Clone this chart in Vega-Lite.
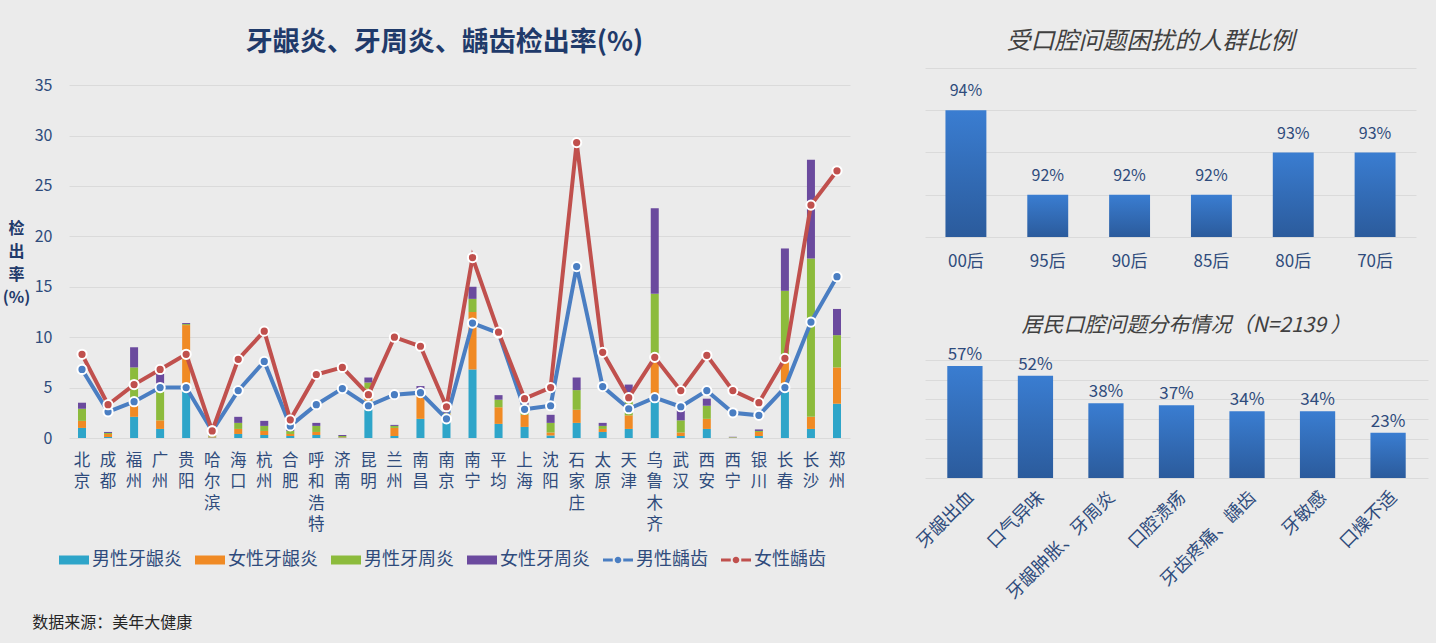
{
  "$schema": "https://vega.github.io/schema/vega-lite/v6.json",
  "background": "#ebebeb",
  "padding": {"left": 2, "top": 29, "right": 8, "bottom": 16},
  "config": {
    "font": "Noto Sans CJK SC",
    "view": {"stroke": null},
    "axis": {"domain": false, "ticks": false, "gridColor": "#d9d9d9", "labelColor": "#2f4b7c", "labelFont": "Noto Sans CJK SC"}
  },
  "title": {"text": "数据来源：美年大健康", "orient": "bottom", "anchor": "start", "fontSize": 16, "fontWeight": "normal", "color": "#262626", "offset": 12, "dx": 30},
  "resolve": {"scale": {"color": "independent"}},
  "spacing": 63,
  "hconcat": [
    {
      "width": 781,
      "height": 370,
      "title": {"text": "牙龈炎、牙周炎、龋齿检出率(%)", "fontSize": 27, "fontWeight": "bold", "color": "#1f3a6a", "anchor": "middle", "dx": -15, "offset": 11},
      "data": {"values": [
        {"city": "北京", "男性牙龈炎": 1.0, "女性牙龈炎": 0.7, "男性牙周炎": 1.2, "女性牙周炎": 0.6, "男性龋齿": 6.8, "女性龋齿": 8.3},
        {"city": "成都", "男性牙龈炎": 0.1, "女性牙龈炎": 0.3, "男性牙周炎": 0.1, "女性牙周炎": 0.1, "男性龋齿": 2.6, "女性龋齿": 3.3},
        {"city": "福州", "男性牙龈炎": 2.1, "女性牙龈炎": 1.8, "男性牙周炎": 3.1, "女性牙周炎": 2.0, "男性龋齿": 3.6, "女性龋齿": 5.3},
        {"city": "广州", "男性牙龈炎": 0.9, "女性牙龈炎": 0.85, "男性牙周炎": 3.6, "女性牙周炎": 1.0, "男性龋齿": 5.0, "女性龋齿": 6.8},
        {"city": "贵阳", "男性牙龈炎": 5.3, "女性牙龈炎": 5.9, "男性牙周炎": 0.1, "女性牙周炎": 0.1, "男性龋齿": 5.0, "女性龋齿": 8.3},
        {"city": "哈尔滨", "男性牙龈炎": 0.05, "女性牙龈炎": 0.1, "男性牙周炎": 0.1, "女性牙周炎": 0.05, "男性龋齿": 0.7, "女性龋齿": 0.7},
        {"city": "海口", "男性牙龈炎": 0.4, "女性牙龈炎": 0.5, "男性牙周炎": 0.6, "女性牙周炎": 0.6, "男性龋齿": 4.7, "女性龋齿": 7.8},
        {"city": "杭州", "男性牙龈炎": 0.3, "女性牙龈炎": 0.4, "男性牙周炎": 0.5, "女性牙周炎": 0.5, "男性龋齿": 7.6, "女性龋齿": 10.6},
        {"city": "合肥", "男性牙龈炎": 0.2, "女性牙龈炎": 0.2, "男性牙周炎": 0.3, "女性牙周炎": 0.2, "男性龋齿": 1.2, "女性龋齿": 1.8},
        {"city": "呼和浩特", "男性牙龈炎": 0.3, "女性牙龈炎": 0.3, "男性牙周炎": 0.6, "女性牙周炎": 0.3, "男性龋齿": 3.3, "女性龋齿": 6.3},
        {"city": "济南", "男性牙龈炎": 0.05, "女性牙龈炎": 0.05, "男性牙周炎": 0.1, "女性牙周炎": 0.1, "男性龋齿": 4.9, "女性龋齿": 7.0},
        {"city": "昆明", "男性牙龈炎": 3.7, "女性牙龈炎": 1.2, "男性牙周炎": 0.6, "女性牙周炎": 0.5, "男性龋齿": 3.2, "女性龋齿": 4.3},
        {"city": "兰州", "男性牙龈炎": 0.2, "女性牙龈炎": 0.8, "男性牙周炎": 0.2, "女性牙周炎": 0.1, "男性龋齿": 4.3, "女性龋齿": 10.0},
        {"city": "南昌", "男性牙龈炎": 1.9, "女性牙龈炎": 2.3, "男性牙周炎": 0.6, "女性牙周炎": 0.35, "男性龋齿": 4.5, "女性龋齿": 9.1},
        {"city": "南京", "男性牙龈炎": 2.3, "女性牙龈炎": 0.1, "男性牙周炎": 0.1, "女性牙周炎": 0.1, "男性龋齿": 1.9, "女性龋齿": 3.1},
        {"city": "南宁", "男性牙龈炎": 6.8, "女性牙龈炎": 5.7, "男性牙周炎": 1.3, "女性牙周炎": 1.2, "男性龋齿": 11.4, "女性龋齿": 17.9},
        {"city": "平均", "男性牙龈炎": 1.4, "女性牙龈炎": 1.65, "男性牙周炎": 0.75, "女性牙周炎": 0.45, "男性龋齿": 10.4, "女性龋齿": 10.5},
        {"city": "上海", "男性牙龈炎": 1.1, "女性牙龈炎": 1.2, "男性牙周炎": 1.0, "女性牙周炎": 0.6, "男性龋齿": 2.85, "女性龋齿": 3.9},
        {"city": "沈阳", "男性牙龈炎": 0.25, "女性牙龈炎": 0.3, "男性牙周炎": 0.95, "女性牙周炎": 0.8, "男性龋齿": 3.2, "女性龋齿": 5.0},
        {"city": "石家庄", "男性牙龈炎": 1.5, "女性牙龈炎": 1.3, "男性牙周炎": 1.95, "女性牙周炎": 1.25, "男性龋齿": 17.0, "女性龋齿": 29.3},
        {"city": "太原", "男性牙龈炎": 0.6, "女性牙龈炎": 0.3, "男性牙周炎": 0.3, "女性牙周炎": 0.3, "男性龋齿": 5.1, "女性龋齿": 8.5},
        {"city": "天津", "男性牙龈炎": 0.9, "女性牙龈炎": 1.35, "男性牙周炎": 2.3, "女性牙周炎": 0.75, "男性龋齿": 2.9, "女性龋齿": 4.0},
        {"city": "乌鲁木齐", "男性牙龈炎": 4.1, "女性牙龈炎": 3.8, "男性牙周炎": 6.4, "女性牙周炎": 8.5, "男性龋齿": 4.0, "女性龋齿": 8.0},
        {"city": "武汉", "男性牙龈炎": 0.2, "女性牙龈炎": 0.35, "男性牙周炎": 1.2, "女性牙周炎": 1.25, "男性龋齿": 3.1, "女性龋齿": 4.7},
        {"city": "西安", "男性牙龈炎": 0.9, "女性牙龈炎": 1.0, "男性牙周炎": 1.3, "女性牙周炎": 0.7, "男性龋齿": 4.7, "女性龋齿": 8.2},
        {"city": "西宁", "男性牙龈炎": 0.03, "女性牙龈炎": 0.03, "男性牙周炎": 0.03, "女性牙周炎": 0.03, "男性龋齿": 2.5, "女性龋齿": 4.7},
        {"city": "银川", "男性牙龈炎": 0.2, "女性牙龈炎": 0.4, "男性牙周炎": 0.1, "女性牙周炎": 0.15, "男性龋齿": 2.25, "女性龋齿": 3.5},
        {"city": "长春", "男性牙龈炎": 4.6, "女性牙龈炎": 3.4, "男性牙周炎": 6.6, "女性牙周炎": 4.2, "男性龋齿": 5.0, "女性龋齿": 7.9},
        {"city": "长沙", "男性牙龈炎": 0.9, "女性牙龈炎": 1.2, "男性牙周炎": 15.7, "女性牙周炎": 9.8, "男性龋齿": 11.5, "女性龋齿": 23.1},
        {"city": "郑州", "男性牙龈炎": 3.4, "女性牙龈炎": 3.6, "男性牙周炎": 3.2, "女性牙周炎": 2.6, "男性龋齿": 16.0, "女性龋齿": 26.5}
      ]},
      "encoding": {
        "x": {"field": "city", "type": "nominal", "sort": null, "scale": {"paddingInner": 0, "paddingOuter": 0},
          "axis": {"title": null, "labelAngle": 0, "labelExpr": "split(datum.label, '')", "labelFontSize": 16.5, "labelLineHeight": 21.5, "labelBaseline": "top", "labelPadding": 14, "labelOverlap": false, "grid": false, "labelColor": "#2f4b7c"}},
        "color": {"field": "series", "type": "nominal",
          "scale": {"domain": ["男性牙龈炎", "女性牙龈炎", "男性牙周炎", "女性牙周炎", "男性龋齿", "女性龋齿"], "range": ["#2ea5c9", "#f08a24", "#8cbb3c", "#6b4a9e", "#4a7ec2", "#c0504d"]},
          "legend": {"orient": "none", "legendX": -10, "legendY": 477, "direction": "horizontal", "title": null, "labelFontSize": 18, "labelColor": "#2f4b7c", "symbolSize": 900, "symbolType": "M-1,-0.3H1V0.3H-1Z", "labelOffset": 3, "columnPadding": 13, "labelLimit": 200,
            "encode": {"symbols": {"update": {
              "shape": {"signal": "indexof(datum.value,'龋齿')>=0 ? 'M-1,-0.1H-0.35V0.1H-1Z M0.35,-0.1H1V0.1H0.35Z M0.22,0A0.22,0.22 0 1,1 -0.22,0A0.22,0.22 0 1,1 0.22,0Z' : 'M-1,-0.3H1V0.3H-1Z'"},
              "fill": {"signal": "datum.value=='男性牙龈炎' ? '#2ea5c9' : datum.value=='女性牙龈炎' ? '#f08a24' : datum.value=='男性牙周炎' ? '#8cbb3c' : datum.value=='女性牙周炎' ? '#6b4a9e' : datum.value=='男性龋齿' ? '#4a7ec2' : '#c0504d'"},
              "opacity": {"value": 1},
              "strokeWidth": {"value": 0}
            }}}}
        }
      },
      "layer": [
        {
          "transform": [
            {"fold": ["男性牙龈炎", "女性牙龈炎", "男性牙周炎", "女性牙周炎"], "as": ["series", "value"]},
            {"calculate": "indexof(['男性牙龈炎', '女性牙龈炎', '男性牙周炎', '女性牙周炎'], datum.series)", "as": "ord"}
          ],
          "mark": {"type": "bar", "size": 8},
          "encoding": {
            "y": {"field": "value", "type": "quantitative", "stack": "zero", "scale": {"domain": [0, 36.7], "nice": false},
              "axis": {"title": ["检", "出", "率", "(%)"], "titleAngle": 0, "titleX": -53, "titleY": 152, "titleAlign": "center", "titleBaseline": "top", "titleFontSize": 16, "titleFontWeight": "bold", "titleColor": "#1f3a6a", "titleLineHeight": 23, "labelFontSize": 16, "labelPadding": 17, "values": [0, 5, 10, 15, 20, 25, 30, 35], "grid": true, "gridColor": "#dadada", "labelColor": "#2f4b7c"}},
            "order": {"field": "ord", "type": "quantitative"}
          }
        },
        {
          "transform": [{"fold": ["男性龋齿", "女性龋齿"], "as": ["series", "value"]}],
          "mark": {"type": "line", "strokeWidth": 4},
          "encoding": {"y": {"field": "value", "type": "quantitative"}}
        },
        {
          "transform": [{"fold": ["男性龋齿", "女性龋齿"], "as": ["series", "value"]}],
          "mark": {"type": "point", "filled": true, "size": 85, "stroke": "white", "strokeWidth": 2, "opacity": 1},
          "encoding": {"y": {"field": "value", "type": "quantitative"}}
        }
      ]
    },
    {
      "spacing": 45,
      "vconcat": [
        {
          "width": 491,
          "height": 169,
          "title": {"text": "受口腔问题困扰的人群比例", "fontSize": 24, "fontStyle": "italic", "fontWeight": "normal", "color": "#404040", "anchor": "middle", "dx": -20, "offset": 14},
          "data": {"values": [
            {"group": "00后", "pct": 0.94},
            {"group": "95后", "pct": 0.92},
            {"group": "90后", "pct": 0.92},
            {"group": "85后", "pct": 0.92},
            {"group": "80后", "pct": 0.93},
            {"group": "70后", "pct": 0.93}
          ]},
          "encoding": {
            "x": {"field": "group", "type": "nominal", "sort": null, "scale": {"paddingInner": 0.5, "paddingOuter": 0.25},
              "axis": {"title": null, "labelAngle": 0, "labelFontSize": 17, "labelPadding": 16, "labelColor": "#2f4b7c"}},
            "y": {"field": "pct", "type": "quantitative", "scale": {"domain": [0.91, 0.95], "zero": false, "nice": false},
              "axis": {"title": null, "labels": false, "values": [0.91, 0.92, 0.93, 0.94, 0.95], "grid": true, "gridColor": "#dadada"}}
          },
          "layer": [
            {"mark": {"type": "bar", "color": {"gradient": "linear", "x1": 0, "y1": 0, "x2": 0, "y2": 1, "stops": [{"offset": 0, "color": "#3a7dd1"}, {"offset": 1, "color": "#2b5b9c"}]}},
             "encoding": {"y2": {"datum": 0.91}}},
            {"mark": {"type": "text", "dy": -19, "fontSize": 16, "color": "#2f4b7c"},
             "encoding": {"text": {"field": "pct", "type": "quantitative", "format": ".0%"}}}
          ]
        },
        {
          "width": 503,
          "height": 118,
          "title": {"text": "居民口腔问题分布情况（N=2139 ）", "fontSize": 21, "fontStyle": "italic", "fontWeight": "normal", "color": "#404040", "anchor": "middle", "dx": 10, "offset": 10},
          "data": {"values": [
            {"issue": "牙龈出血", "pct": 0.57},
            {"issue": "口气异味", "pct": 0.52},
            {"issue": "牙龈肿胀、牙周炎", "pct": 0.38},
            {"issue": "口腔溃疡", "pct": 0.37},
            {"issue": "牙齿疼痛、龋齿", "pct": 0.34},
            {"issue": "牙敏感", "pct": 0.34},
            {"issue": "口燥不适", "pct": 0.23}
          ]},
          "encoding": {
            "x": {"field": "issue", "type": "nominal", "sort": null, "scale": {"paddingInner": 0.5, "paddingOuter": 0.316},
              "axis": {"title": null, "labelAngle": -45, "labelFontSize": 18, "labelPadding": 10, "labelColor": "#2f4b7c", "labelLimit": 300}},
            "y": {"field": "pct", "type": "quantitative", "scale": {"domain": [0, 0.6], "nice": false},
              "axis": {"title": null, "labels": false, "values": [0, 0.1, 0.2, 0.3, 0.4, 0.5, 0.6], "grid": true, "gridColor": "#dadada"}}
          },
          "layer": [
            {"mark": {"type": "bar", "color": {"gradient": "linear", "x1": 0, "y1": 0, "x2": 0, "y2": 1, "stops": [{"offset": 0, "color": "#3a7dd1"}, {"offset": 1, "color": "#2b5b9c"}]}}},
            {"mark": {"type": "text", "dy": -11, "fontSize": 17, "color": "#2f4b7c"},
             "encoding": {"text": {"field": "pct", "type": "quantitative", "format": ".0%"}}}
          ]
        }
      ]
    }
  ]
}
